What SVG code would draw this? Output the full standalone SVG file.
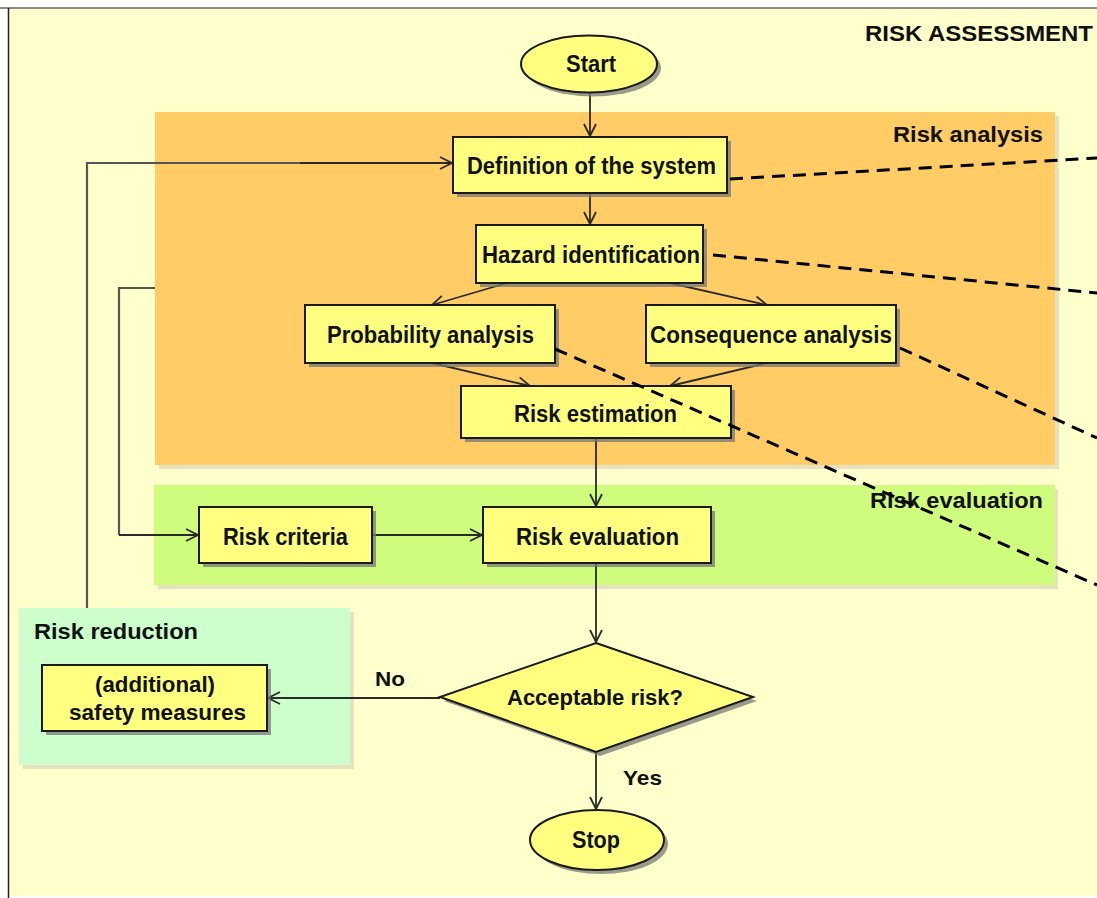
<svg xmlns="http://www.w3.org/2000/svg" width="1097" height="898" viewBox="0 0 1097 898">
  <style>
    .lbl { font-family: "Liberation Sans", Arial, sans-serif; font-weight: bold; fill: #111; }
    .box { fill: #FFFF80; stroke: #1a1a1a; stroke-width: 2; }
    .shadow { fill: #777; opacity: 0.75; }
    .flow { fill: none; stroke: #2a2a2a; stroke-width: 1.8; marker-end: url(#open); }
    .feed { fill: none; stroke: #555; stroke-width: 2.2; }
    .dash { fill: none; stroke: #000; stroke-width: 3; stroke-dasharray: 13 8; }
    .zshadow { fill: #e6e2bf; }
  </style>
  <defs>
    <marker id="open" viewBox="0 0 14 14" refX="13" refY="7" markerWidth="14" markerHeight="14" markerUnits="userSpaceOnUse" orient="auto">
      <path d="M1,1 L13,7 L1,13" fill="none" stroke="#2a2a2a" stroke-width="1.8"/>
    </marker>
  </defs>

  <!-- frame -->
  <rect x="0" y="0" width="1097" height="898" fill="#ffffff"/>
  <rect x="8" y="8" width="1095" height="888" fill="#FFFFCC"/>
  <line x1="0" y1="8" x2="1097" y2="8" stroke="#8a8a8a" stroke-width="2"/>
  <line x1="8.5" y1="8" x2="8.5" y2="898" stroke="#222" stroke-width="1.5"/>
  <text class="lbl" x="865" y="41" font-size="22" textLength="228" lengthAdjust="spacingAndGlyphs">RISK ASSESSMENT</text>

  <!-- zones -->
  <g id="zone-analysis">
    <rect class="zshadow" x="159" y="116" width="900" height="353"/>
    <rect x="155" y="112" width="900" height="353" fill="#FFCC66"/>
    <text class="lbl" x="893" y="142" font-size="22.5" textLength="150" lengthAdjust="spacingAndGlyphs">Risk analysis</text>
  </g>
  <g id="zone-evaluation">
    <rect class="zshadow" x="158" y="489" width="900" height="100"/>
    <rect x="154" y="485" width="901" height="100" fill="#CFFC7C"/>
    <text class="lbl" x="870" y="508" font-size="22.5" textLength="173" lengthAdjust="spacingAndGlyphs">Risk evaluation</text>
  </g>
  <g id="zone-reduction">
    <rect class="zshadow" x="23" y="612" width="331" height="157"/>
    <rect x="19" y="608" width="331" height="157" fill="#CCFFCC"/>
    <text class="lbl" x="34" y="639" font-size="21.5" textLength="164" lengthAdjust="spacingAndGlyphs">Risk reduction</text>
  </g>

  <!-- connectors -->
  <g id="connectors">
    <line class="flow" x1="590" y1="93" x2="590" y2="136"/>
    <line class="flow" x1="590" y1="193" x2="590" y2="224"/>
    <line class="flow" x1="507" y1="283" x2="432" y2="305"/>
    <line class="flow" x1="670" y1="283" x2="767" y2="305"/>
    <line class="flow" x1="432" y1="363" x2="530" y2="386"/>
    <line class="flow" x1="767" y1="363" x2="670" y2="386"/>
    <line class="flow" x1="596" y1="438" x2="596" y2="506"/>
    <line class="flow" x1="372" y1="535" x2="482" y2="535"/>
    <line class="flow" x1="596" y1="563" x2="596" y2="642"/>
    <line class="flow" x1="440" y1="698" x2="268" y2="698"/>
    <line class="flow" x1="596" y1="752" x2="596" y2="809"/>
    <path class="feed" d="M155,288 H119 V535"/>
    <line class="flow" x1="119" y1="535" x2="198" y2="535"/>
    <path class="feed" d="M87,608 V163 H300"/>
    <line class="flow" x1="300" y1="163" x2="452" y2="163"/>
    <text class="lbl" x="375" y="686" font-size="21" textLength="30" lengthAdjust="spacingAndGlyphs">No</text>
    <text class="lbl" x="623" y="785" font-size="21" textLength="39" lengthAdjust="spacingAndGlyphs">Yes</text>
  </g>

  <!-- nodes -->
  <g id="start">
    <ellipse class="shadow" cx="593" cy="68" rx="68" ry="28.5"/>
    <ellipse class="box" cx="589" cy="64" rx="68" ry="28.5"/>
    <text class="lbl" x="566" y="72" font-size="23.5" textLength="50" lengthAdjust="spacingAndGlyphs">Start</text>
  </g>
  <g id="definition">
    <rect class="shadow" x="457" y="141" width="274" height="56"/>
    <rect class="box" x="453" y="137" width="274" height="56"/>
    <text class="lbl" x="467" y="174" font-size="23" textLength="249" lengthAdjust="spacingAndGlyphs">Definition of the system</text>
  </g>
  <g id="hazard">
    <rect class="shadow" x="480" y="229" width="227" height="58"/>
    <rect class="box" x="476" y="225" width="227" height="58"/>
    <text class="lbl" x="482" y="263" font-size="23" textLength="218" lengthAdjust="spacingAndGlyphs">Hazard identification</text>
  </g>
  <g id="probability">
    <rect class="shadow" x="309" y="309" width="250" height="58"/>
    <rect class="box" x="305" y="305" width="250" height="58"/>
    <text class="lbl" x="327" y="343" font-size="23" textLength="207" lengthAdjust="spacingAndGlyphs">Probability analysis</text>
  </g>
  <g id="consequence">
    <rect class="shadow" x="650" y="309" width="250" height="58"/>
    <rect class="box" x="646" y="305" width="250" height="58"/>
    <text class="lbl" x="650" y="343" font-size="23" textLength="242" lengthAdjust="spacingAndGlyphs">Consequence analysis</text>
  </g>
  <g id="estimation">
    <rect class="shadow" x="465" y="390" width="270" height="52"/>
    <rect class="box" x="461" y="386" width="270" height="52"/>
    <text class="lbl" x="514" y="422" font-size="23" textLength="163" lengthAdjust="spacingAndGlyphs">Risk estimation</text>
  </g>
  <g id="criteria">
    <rect class="shadow" x="203" y="511" width="173" height="56"/>
    <rect class="box" x="199" y="507" width="173" height="56"/>
    <text class="lbl" x="223" y="545" font-size="23" textLength="125" lengthAdjust="spacingAndGlyphs">Risk criteria</text>
  </g>
  <g id="evaluation">
    <rect class="shadow" x="487" y="511" width="228" height="56"/>
    <rect class="box" x="483" y="507" width="228" height="56"/>
    <text class="lbl" x="516" y="545" font-size="23" textLength="163" lengthAdjust="spacingAndGlyphs">Risk evaluation</text>
  </g>
  <g id="measures">
    <rect class="shadow" x="46" y="669" width="225" height="66"/>
    <rect class="box" x="42" y="665" width="225" height="66"/>
    <text class="lbl" x="95" y="692" font-size="22" textLength="120" lengthAdjust="spacingAndGlyphs">(additional)</text>
    <text class="lbl" x="69" y="720" font-size="22" textLength="177" lengthAdjust="spacingAndGlyphs">safety measures</text>
  </g>
  <g id="decision">
    <polygon class="shadow" points="600,647 757,701 600,756 444,701"/>
    <polygon class="box" points="596,643 753,697 596,752 440,697"/>
    <text class="lbl" x="507" y="705" font-size="22" textLength="176" lengthAdjust="spacingAndGlyphs">Acceptable risk?</text>
  </g>
  <g id="stop">
    <ellipse class="shadow" cx="601" cy="844" rx="67" ry="30"/>
    <ellipse class="box" cx="597" cy="840" rx="67" ry="30"/>
    <text class="lbl" x="572" y="848" font-size="23" textLength="48" lengthAdjust="spacingAndGlyphs">Stop</text>
  </g>

  <!-- callout leaders -->
  <g id="leaders">
    <line class="dash" x1="730" y1="179" x2="1097" y2="158"/>
    <line class="dash" x1="713" y1="255" x2="1097" y2="293"/>
    <line class="dash" x1="900" y1="348" x2="1097" y2="438"/>
    <line class="dash" x1="555" y1="349" x2="1097" y2="585"/>
  </g>
</svg>
